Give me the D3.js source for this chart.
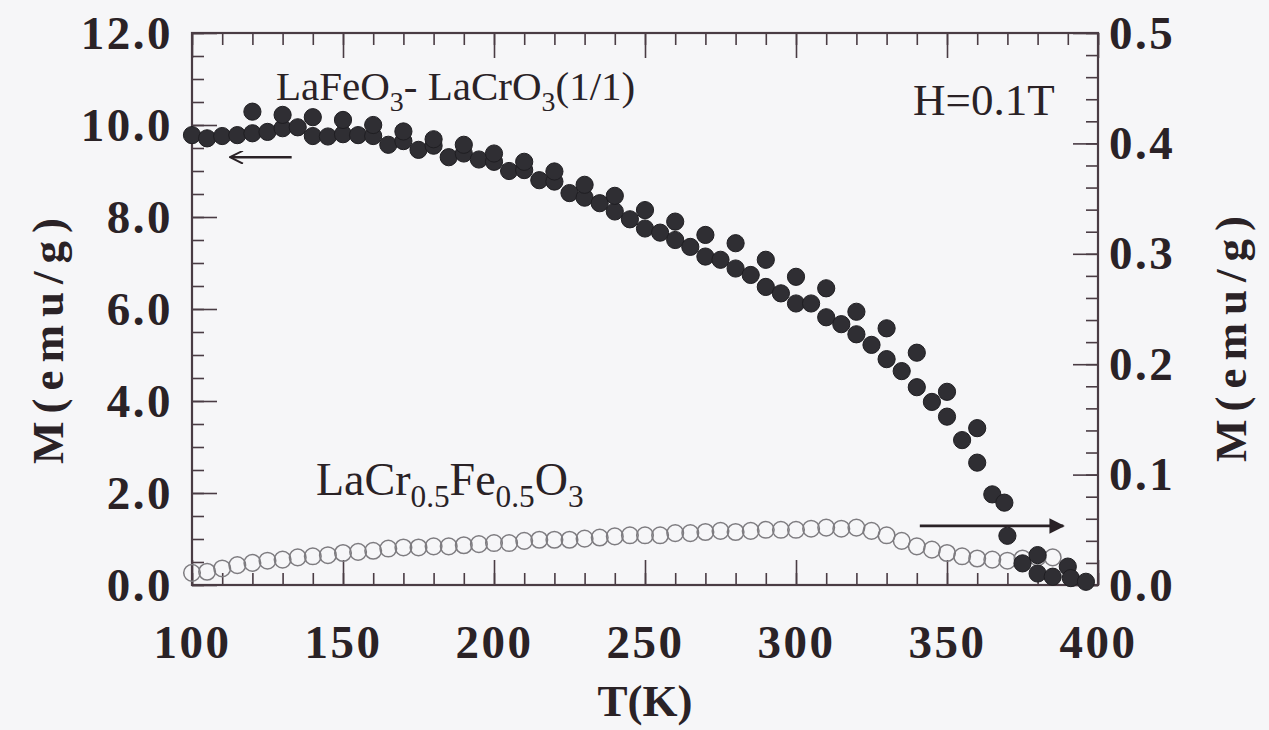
<!DOCTYPE html>
<html>
<head>
<meta charset="utf-8">
<script src="https://cdn.jsdelivr.net/npm/d3@7/dist/d3.min.js"></script>
<style>
  html, body { margin: 0; padding: 0; background: #f6f6f8; }
  svg { display: block; }
  .tick text { font-family: "Liberation Serif", "DejaVu Serif", serif; font-weight: bold; fill: #2a2226; }
</style>
</head>
<body>
<svg id="chart" width="1269" height="730"></svg>
<script>
// ---- Data ----
// Filled circles: LaFeO3-LaCrO3 (1/1), left axis M (emu/g)
const filledT = [100,105,110,115,120,125,130,135,140,145,150,155,160,165,170,175,180,185,190,195,
                 200,205,210,215,220,225,230,235,240,245,250,255,260,265,270,275,280,285,290,295,
                 300,305,310,315,320,325,330,335,340,345,350,355,360,365,370,375,380,380,385,390,391,396,
                 120,130,140,150,160,170,180,190,200,210,220,230,240,250,260,270,280,290,300,310,320,330,340,350,360,369];
const filledM = [9.78,9.71,9.76,9.78,9.82,9.85,9.93,9.95,9.76,9.75,9.80,9.78,9.76,9.57,9.65,9.46,9.55,9.30,9.38,9.25,
                 9.20,9.00,9.02,8.80,8.77,8.52,8.42,8.30,8.12,7.95,7.75,7.66,7.50,7.35,7.14,7.07,6.88,6.74,6.48,6.34,
                 6.12,6.12,5.82,5.67,5.45,5.22,4.91,4.65,4.30,3.98,3.66,3.15,2.66,1.97,1.07,0.47,0.65,0.25,0.18,0.40,0.15,0.07,
                 10.29,10.22,10.17,10.11,10.00,9.86,9.69,9.57,9.38,9.20,8.99,8.70,8.46,8.15,7.90,7.61,7.43,7.07,6.70,6.45,5.94,5.58,5.05,4.20,3.41,1.79];

// Open circles: LaCr0.5Fe0.5O3, right axis M (emu/g)
const openT = [100,105,110,115,120,125,130,135,140,145,150,155,160,165,170,175,180,185,190,195,
               200,205,210,215,220,225,230,235,240,245,250,255,260,265,270,275,280,285,290,295,
               300,305,310,315,320,325,330,335,340,345,350,355,360,365,370,375,380,385];
const openM = [0.011,0.012,0.015,0.018,0.020,0.022,0.023,0.025,0.026,0.027,0.029,0.030,0.031,0.033,0.034,0.034,0.035,0.035,0.036,0.037,
               0.038,0.038,0.040,0.041,0.041,0.041,0.042,0.043,0.044,0.045,0.045,0.045,0.047,0.047,0.048,0.049,0.048,0.049,0.050,0.050,
               0.050,0.051,0.052,0.051,0.052,0.049,0.045,0.040,0.035,0.032,0.029,0.026,0.024,0.023,0.022,0.024,0.025,0.025];

// Tick values
const xMajor = [100,150,200,250,300,350,400];
const xMinor = d3.range(100, 401, 10);
const yLeftMajor = [0,2,4,6,8,10,12];
const yLeftMinor = d3.range(0, 12.01, 0.5);
const yRightMajor = [0,0.1,0.2,0.3,0.4,0.5];
const yRightMinor = d3.range(0, 0.501, 0.02);

// ---- Layout ----
const svg = d3.select("#chart");
const L = 192, R = 1098, T = 33, B = 585;
const frameColor = "#4a3c44";
const textColor = "#2a2226";
const serif = '"Liberation Serif", "DejaVu Serif", serif';

svg.append("rect").attr("width", 1269).attr("height", 730).attr("fill", "#f6f6f8");

const x = d3.scaleLinear().domain([100, 400]).range([L, R]);
const yL = d3.scaleLinear().domain([0, 12]).range([B, T]);
const yR = d3.scaleLinear().domain([0, 0.5]).range([B, T]);

function styleAxis(g) {
  g.select(".domain").remove();
  g.selectAll(".tick line").attr("stroke", frameColor).attr("stroke-width", 1.6);
}

// minor ticks
svg.append("g").attr("transform", `translate(0,${B})`)
  .call(d3.axisBottom(x).tickValues(xMinor).tickSize(-12).tickFormat("")).call(styleAxis);
svg.append("g").attr("transform", `translate(0,${T})`)
  .call(d3.axisTop(x).tickValues(xMinor).tickSize(-12).tickFormat("")).call(styleAxis);
svg.append("g").attr("transform", `translate(${L},0)`)
  .call(d3.axisLeft(yL).tickValues(yLeftMinor).tickSize(-12).tickFormat("")).call(styleAxis);
svg.append("g").attr("transform", `translate(${R},0)`)
  .call(d3.axisRight(yR).tickValues(yRightMinor).tickSize(-12).tickFormat("")).call(styleAxis);

// major ticks with labels
const gx = svg.append("g").attr("transform", `translate(0,${B})`)
  .call(d3.axisBottom(x).tickValues(xMajor).tickSize(-25).tickPadding(40).tickFormat(d3.format("d")))
  .call(styleAxis);
gx.selectAll(".tick text").attr("font-size", 47).attr("font-family", serif).style("letter-spacing", "2.5px");

svg.append("g").attr("transform", `translate(0,${T})`)
  .call(d3.axisTop(x).tickValues(xMajor).tickSize(-25).tickFormat("")).call(styleAxis);

const gyl = svg.append("g").attr("transform", `translate(${L},0)`)
  .call(d3.axisLeft(yL).tickValues(yLeftMajor).tickSize(-25).tickPadding(19).tickFormat(d3.format(".1f")))
  .call(styleAxis);
gyl.selectAll(".tick text").attr("font-size", 47).attr("font-family", serif).style("letter-spacing", "2.5px");

const gyr = svg.append("g").attr("transform", `translate(${R},0)`)
  .call(d3.axisRight(yR).tickValues(yRightMajor).tickSize(-25).tickPadding(11).tickFormat(d3.format(".1f")))
  .call(styleAxis);
gyr.selectAll(".tick text").attr("font-size", 47).attr("font-family", serif).style("letter-spacing", "2.5px");

// frame
svg.append("rect").attr("x", L).attr("y", T).attr("width", R - L).attr("height", B - T)
  .attr("fill", "none").attr("stroke", frameColor).attr("stroke-width", 2.2);

// open circles (right axis)
svg.append("g").selectAll("circle").data(openT.map((t, i) => [t, openM[i]])).join("circle")
  .attr("cx", d => x(d[0])).attr("cy", d => yR(d[1])).attr("r", 8.3)
  .attr("fill", "none").attr("stroke", "#7e7c80").attr("stroke-width", 1.5);

// filled circles (left axis)
svg.append("g").selectAll("circle").data(filledT.map((t, i) => [t, filledM[i]])).join("circle")
  .attr("cx", d => x(d[0])).attr("cy", d => yL(d[1])).attr("r", 8.6)
  .attr("fill", "#2f2e33").attr("stroke", "#1f1e22").attr("stroke-width", 1);

// arrows
const defs = svg.append("defs");
defs.append("marker").attr("id", "ah").attr("viewBox", "0 0 10 10").attr("refX", 9).attr("refY", 5)
  .attr("markerWidth", 7).attr("markerHeight", 5.5).attr("markerUnits", "strokeWidth").attr("orient", "auto")
  .append("path").attr("d", "M0,0 L10,5 L0,10 z").attr("fill", "#2a2226");
defs.append("marker").attr("id", "ahOpen").attr("viewBox", "0 0 10 10").attr("refX", 9).attr("refY", 5)
  .attr("markerWidth", 6).attr("markerHeight", 5).attr("markerUnits", "strokeWidth").attr("orient", "auto")
  .append("path").attr("d", "M0,0 L10,5 L0,10").attr("fill", "none").attr("stroke", "#2a2226").attr("stroke-width", 1.5);

svg.append("line").attr("x1", x(133)).attr("x2", x(113)).attr("y1", yL(9.3)).attr("y2", yL(9.3))
  .attr("stroke", "#2a2226").attr("stroke-width", 2.6).attr("marker-end", "url(#ahOpen)");
svg.append("line").attr("x1", x(341)).attr("x2", x(388.5)).attr("y1", yR(0.0535)).attr("y2", yR(0.0535))
  .attr("stroke", "#2a2226").attr("stroke-width", 2.8).attr("marker-end", "url(#ah)");

// annotations
function chem(parts, xPos, yPos, size) {
  const t = svg.append("text").attr("x", xPos).attr("y", yPos).attr("font-family", serif)
    .attr("font-size", size).attr("fill", textColor);
  parts.forEach(p => {
    const s = t.append("tspan").text(p[0]);
    if (p[1] === "sub") {
      s.attr("font-size", size * 0.68).attr("dy", size * 0.26);
    } else if (p[1] === "up") {
      s.attr("dy", -size * 0.26);
    }
  });
  return t;
}
chem([["LaFeO"], ["3", "sub"], ["- LaCrO", "up"], ["3", "sub"], ["(1/1)", "up"]], 276, 100, 41);
chem([["LaCr"], ["0.5", "sub"], ["Fe", "up"], ["0.5", "sub"], ["O", "up"], ["3", "sub"]], 316, 495, 46);
svg.append("text").attr("x", 913).attr("y", 115).attr("font-family", serif).attr("font-size", 45)
  .attr("fill", textColor).text("H=0.1T");

// axis titles
svg.append("text").attr("x", 645).attr("y", 716).attr("text-anchor", "middle")
  .attr("font-family", serif).attr("font-weight", "bold").attr("font-size", 45).attr("fill", textColor).text("T(K)");
svg.append("text").attr("transform", "translate(63,337) rotate(-90)").attr("text-anchor", "middle")
  .attr("font-family", serif).attr("font-weight", "bold").attr("font-size", 45).attr("fill", textColor)
  .style("letter-spacing", "8px").text("M(emu/g)");
svg.append("text").attr("transform", "translate(1246,335) rotate(-90)").attr("text-anchor", "middle")
  .attr("font-family", serif).attr("font-weight", "bold").attr("font-size", 45).attr("fill", textColor)
  .style("letter-spacing", "8px").text("M(emu/g)");
</script>
</body>
</html>
